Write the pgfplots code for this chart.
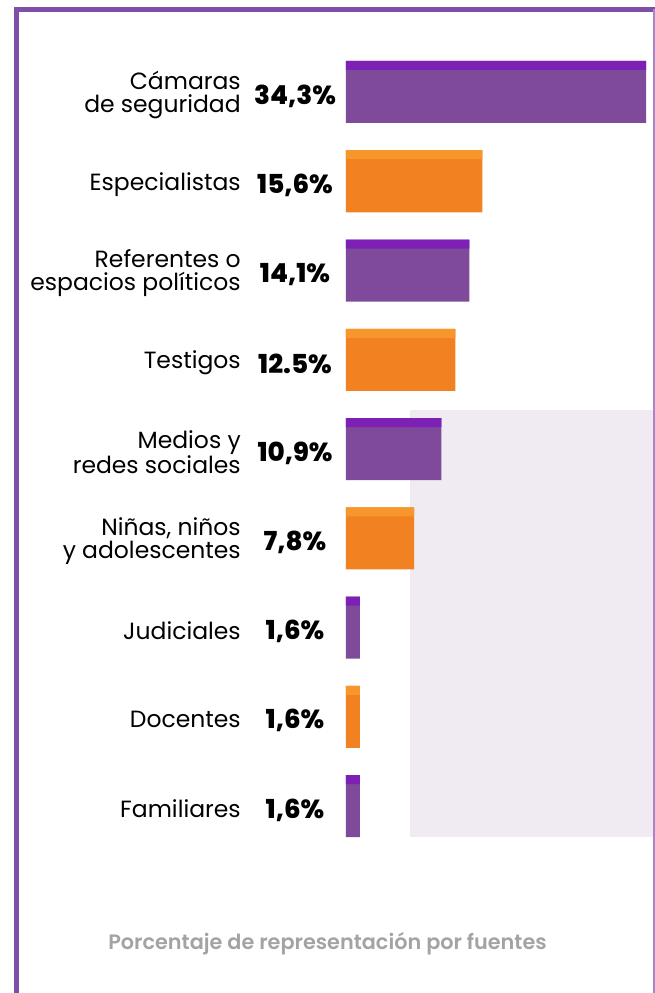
\documentclass[border=0pt]{standalone}
\usepackage{fontspec}
\setmainfont{Poppins}
\newfontfamily\pxbold{Poppins ExtraBold}
\newfontfamily\psemi{Poppins SemiBold}
\usepackage{pgfplots}
\usepackage{pgfplotstable}
\pgfplotsset{compat=1.18}
\definecolor{barP}{RGB}{127,74,154}
\definecolor{stripP}{RGB}{124,32,182}
\definecolor{barO}{RGB}{242,129,33}
\definecolor{stripO}{RGB}{247,151,43}
\definecolor{lav}{RGB}{240,234,243}
\definecolor{frameP}{RGB}{127,78,166}
\definecolor{frameR}{RGB}{169,132,204}
\definecolor{titlegray}{RGB}{163,163,163}

\pgfplotstableread{
y x
0 34.3
2 14.1
4 10.9
6 1.6
8 1.6
}\purpledata
\pgfplotstableread{
y x
1 15.6
3 12.5
5 7.8
7 1.6
}\orangedata
\pgfplotstableread{
y x label
0 0 34,3
1 0 15,6
2 0 14,1
3 0 12.5
4 0 10,9
5 0 7,8
6 0 1,6
7 0 1,6
8 0 1,6
}\labeldata

\begin{document}
\begin{tikzpicture}[x=0.75pt,y=0.75pt]
\useasboundingbox (0,0) rectangle (655,993);
% light background panel
\fill[lav] (410,993-410) rectangle (655,993-837);
\begin{axis}[
  at={(259.5pt,709.22pt)}, anchor=north west,
  scale only axis,
  width=225pt, height=602.44pt,
  xmin=0, xmax=34.3,
  ymin=-0.5, ymax=8.5,
  y dir=reverse,
  clip=false,
  hide x axis,
  y axis line style={draw=none},
  ytick={0,...,8},
  major tick length=0pt,
  yticklabels={{Cámaras\\de seguridad},{Especialistas},{Referentes o\\espacios políticos},{Testigos},{Medios y\\redes sociales},{Niñas, niños\\y adolescentes},{Judiciales},{Docentes},{Familiares}},
  yticklabel style={align=right, anchor=east, inner sep=0pt, xshift=-78.75pt, yshift=-2.2pt,
    font=\fontsize{17.6pt}{17.4pt}\selectfont, text=black},
]
\addplot[xbar, bar width=46.5pt, bar shift=0pt, fill=barP, draw=none] table[x=x,y=y] {\purpledata};
\addplot[xbar, bar width=6.75pt, bar shift=19.875pt, fill=stripP, draw=none] table[x=x,y=y] {\purpledata};
\addplot[xbar, bar width=46.5pt, bar shift=0pt, fill=barO, draw=none] table[x=x,y=y] {\orangedata};
\addplot[xbar, bar width=6.75pt, bar shift=19.875pt, fill=stripO, draw=none] table[x=x,y=y] {\orangedata};
\addplot[draw=none, mark=none, nodes near coords={\pgfplotspointmeta\%}, point meta=explicit symbolic,
  every node near coord/.append style={anchor=center, xshift=-38.25pt, yshift=-3pt,
    font=\fontsize{19.6pt}{20pt}\selectfont\pxbold, text=black}]
  table[x=x,y=y,meta=label] {\labeldata};
\end{axis}
% frame
\fill[frameP] (14,993-7) rectangle (19,0);
\fill[frameP] (14,993-7) rectangle (655,993-12);
\fill[frameR] (653,993-9) rectangle (655,0);
\node[text=titlegray, font=\fontsize{15.6pt}{17pt}\selectfont\psemi] at (327.5,993-944) {Porcentaje de representación por fuentes};
\end{tikzpicture}
\end{document}
